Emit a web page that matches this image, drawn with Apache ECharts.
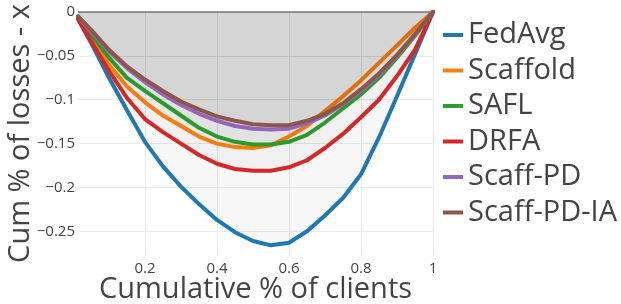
<!DOCTYPE html>
<html>
<head>
<meta charset="utf-8">
<script src="https://cdn.jsdelivr.net/npm/echarts@6/dist/echarts.min.js"></script>
<style>
  html, body { margin: 0; padding: 0; background: #fff; }
  #renderChart { width: 621px; height: 304px; }
</style>
</head>
<body>
<div id="renderChart"></div>
<script>
// cumulative share of clients (x)
const clientShare = [0.014, 0.05, 0.1, 0.15, 0.2, 0.25, 0.3, 0.35, 0.4, 0.45, 0.5,
  0.55, 0.6, 0.65, 0.7, 0.75, 0.8, 0.85, 0.9, 0.95, 1.0];

const fedAvg = [-0.008, -0.035, -0.075, -0.112, -0.148, -0.176, -0.199, -0.219, -0.237, -0.251, -0.261,
  -0.266, -0.263, -0.250, -0.232, -0.212, -0.185, -0.143, -0.096, -0.048, 0];
const scaffold = [-0.006, -0.028, -0.060, -0.085, -0.103, -0.118, -0.130, -0.142, -0.150, -0.154, -0.155,
  -0.152, -0.142, -0.130, -0.113, -0.096, -0.078, -0.058, -0.038, -0.018, 0];
const safl = [-0.006, -0.025, -0.052, -0.075, -0.090, -0.104, -0.118, -0.132, -0.142, -0.148, -0.151,
  -0.151, -0.148, -0.140, -0.126, -0.110, -0.094, -0.075, -0.052, -0.027, 0];
const drfa = [-0.008, -0.033, -0.067, -0.098, -0.122, -0.137, -0.150, -0.163, -0.173, -0.179, -0.181,
  -0.181, -0.177, -0.169, -0.155, -0.139, -0.120, -0.100, -0.073, -0.043, 0];
const scaffPD = [-0.005, -0.022, -0.045, -0.064, -0.080, -0.094, -0.106, -0.116, -0.124, -0.130, -0.133,
  -0.134, -0.133, -0.127, -0.118, -0.105, -0.090, -0.072, -0.050, -0.026, 0];
const scaffPDIA = [-0.005, -0.020, -0.043, -0.062, -0.077, -0.090, -0.102, -0.111, -0.119, -0.124, -0.128,
  -0.129, -0.129, -0.124, -0.116, -0.104, -0.088, -0.070, -0.049, -0.025, 0];

const seriesNames = ['FedAvg', 'Scaffold', 'SAFL', 'DRFA', 'Scaff-PD', 'Scaff-PD-IA'];
const seriesValues = [fedAvg, scaffold, safl, drfa, scaffPD, scaffPDIA];
const colors = ['#1f77b4', '#ff7f0e', '#2ca02c', '#d62728', '#9467bd', '#8c564b'];

const xTicks = [0.2, 0.4, 0.6, 0.8, 1];
const yTicks = [-0.25, -0.2, -0.15, -0.1, -0.05, 0];

const font = '"Open Sans", "DejaVu Sans", sans-serif';

const myChart = echarts.init(document.getElementById('renderChart'));

const series = seriesValues.map((vals, i) => {
  const s = {
    name: seriesNames[i],
    type: 'line',
    showSymbol: false,
    data: vals.map((v, j) => [clientShare[j], v]),
    lineStyle: { width: 4, color: colors[i], cap: 'round', join: 'round' },
    itemStyle: { color: colors[i] },
    areaStyle: { color: 'rgba(0,0,0,0.031)', opacity: 1 },
    z: 2 + i
  };
  if (i === 0) {
    s.markLine = {
      silent: true,
      symbol: 'none',
      label: { show: false },
      lineStyle: { color: '#999', width: 2, type: 'solid' },
      data: [{ yAxis: 0 }]
    };
  }
  return s;
});

const option = {
  animation: false,
  color: colors,
  grid: { left: 78, right: 188, top: 12, bottom: 49, outerBoundsMode: 'none', containLabel: false },
  legend: {
    orient: 'vertical',
    left: 443,
    top: 19,
    padding: 0,
    icon: 'rect',
    itemWidth: 20,
    itemHeight: 4,
    itemGap: 3.5,
    textStyle: { fontFamily: font, fontSize: 29, color: '#444', lineHeight: 32 },
    data: seriesNames
  },
  xAxis: {
    type: 'value',
    min: 0.014,
    max: 1,
    name: 'Cumulative % of clients',
    nameLocation: 'middle',
    nameGap: 20,
    nameMoveOverlap: false,
    nameTextStyle: { fontFamily: font, fontSize: 29, color: '#444' },
    axisLine: { show: false },
    axisTick: { show: false, customValues: xTicks },
    axisLabel: {
      customValues: xTicks,
      margin: 6,
      fontFamily: font, fontSize: 15, color: '#444',
      formatter: v => String(+v.toFixed(2))
    },
    splitLine: { show: true, lineStyle: { color: '#ebebeb', width: 1 } }
  },
  yAxis: {
    type: 'value',
    min: -0.277,
    max: 0,
    name: 'Cum % of losses - x',
    nameLocation: 'middle',
    nameGap: 43,
    nameMoveOverlap: false,
    nameTextStyle: { fontFamily: font, fontSize: 29, color: '#444' },
    axisLine: { show: false },
    axisTick: { show: false, customValues: yTicks },
    axisLabel: {
      customValues: yTicks,
      margin: 3,
      fontFamily: font, fontSize: 15, color: '#444',
      formatter: v => String(+v.toFixed(2)).replace('-', '\u2212')
    },
    splitLine: { show: true, lineStyle: { color: '#ebebeb', width: 1 } }
  },
  series: series
};

myChart.setOption(option);
</script>
</body>
</html>
